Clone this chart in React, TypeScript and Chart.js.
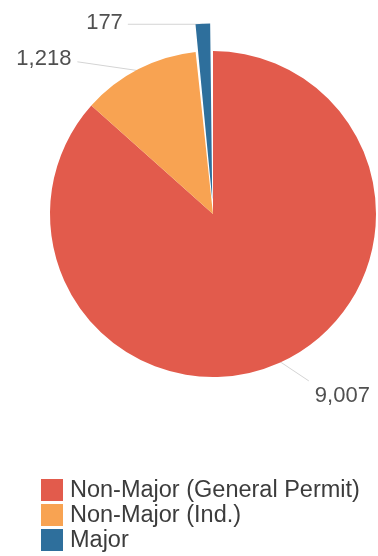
import React, { useEffect, useRef } from "react";
import { Chart, registerables } from "chart.js";

Chart.register(...registerables);

// ---- data ----
const categories = ["Non-Major (General Permit)", "Non-Major (Ind.)", "Major"];
const values = [9007, 1218, 177];

// ---- styles ----
const colors = ["#E25B4C", "#F8A352", "#2E6F9C"];
const sliceOffsets = [0, 0, 58];
// leader line end relative to slice edge, and text placement relative to line end
const leaderEnds = [
  { dx: 30, dy: 20, tx: 6, ty: 15, align: "left" },
  { dx: -62, dy: -9, tx: -6, ty: -3, align: "right" },
  { dx: -75, dy: 0, tx: -5, ty: -1, align: "right" },
];
const FONT = '"Liberation Sans", Arial, sans-serif';

function leaderGeometry(chart: any) {
  const meta = chart.getDatasetMeta(0);
  return meta.data.map((arc: any, i: number) => {
    const p = arc.getProps(["x", "y", "startAngle", "endAngle", "outerRadius"], true);
    const mid = (p.startAngle + p.endAngle) / 2;
    // Chart.js draws an arc's outer edge offset/2 further out
    const r = p.outerRadius + sliceOffsets[i] / 2 - 2;
    const ex = p.x + Math.cos(mid) * r;
    const ey = p.y + Math.sin(mid) * r;
    const le = leaderEnds[i];
    return { ex, ey, lx: ex + le.dx, ly: ey + le.dy, le };
  });
}

const leaderLabels = {
  id: "leaderLabels",
  beforeDatasetsDraw(chart: any) {
    const ctx = chart.ctx;
    ctx.save();
    ctx.strokeStyle = "#d4d4d4";
    ctx.lineWidth = 1;
    leaderGeometry(chart).forEach((g: any) => {
      ctx.beginPath();
      ctx.moveTo(g.ex, g.ey);
      ctx.lineTo(g.lx, g.ly);
      ctx.stroke();
    });
    ctx.restore();
  },
  afterDatasetsDraw(chart: any) {
    const ctx = chart.ctx;
    ctx.save();
    ctx.fillStyle = "#505050";
    ctx.font = `22px ${FONT}`;
    ctx.textBaseline = "middle";
    leaderGeometry(chart).forEach((g: any, i: number) => {
      ctx.textAlign = g.le.align as CanvasTextAlign;
      ctx.fillText(values[i].toLocaleString("en-US"), g.lx + g.le.tx, g.ly + g.le.ty);
    });
    ctx.restore();
  },
};

const listLegend = {
  id: "listLegend",
  afterDraw(chart: any) {
    const ctx = chart.ctx;
    const left = 41;
    const top = 479;
    const rowH = 25;
    const box = 22;
    ctx.save();
    ctx.font = `23.5px ${FONT}`;
    ctx.textBaseline = "middle";
    ctx.textAlign = "left";
    chart.data.labels.forEach((lab: string, i: number) => {
      const y = top + i * rowH;
      ctx.fillStyle = colors[i];
      ctx.fillRect(left, y, box, box);
      ctx.fillStyle = "#3c3c3c";
      ctx.fillText(lab, left + box + 7, y + box / 2 + 1);
    });
    ctx.restore();
  },
};

export default function App() {
  const ref = useRef<HTMLCanvasElement>(null);
  useEffect(() => {
    if (!ref.current) return;
    const chart = new Chart(ref.current, {
      type: "pie",
      data: {
        labels: categories,
        datasets: [
          {
            data: values,
            backgroundColor: colors,
            borderWidth: 0,
            offset: sliceOffsets,
            hoverOffset: 0,
          },
        ],
      },
      options: {
        responsive: false,
        animation: false,
        radius: 163,
        layout: { padding: { left: 48, right: 0, top: 50, bottom: 178 } },
        plugins: {
          legend: { display: false },
          tooltip: { enabled: false },
        },
        events: [],
      } as any,
      plugins: [leaderLabels, listLegend],
    });
    return () => chart.destroy();
  }, []);
  return (
    <div style={{ position: "fixed", left: 0, top: 0, width: 378, height: 556, background: "#fff" }}>
      <canvas ref={ref} width={378} height={556} style={{ display: "block" }} />
    </div>
  );
}
